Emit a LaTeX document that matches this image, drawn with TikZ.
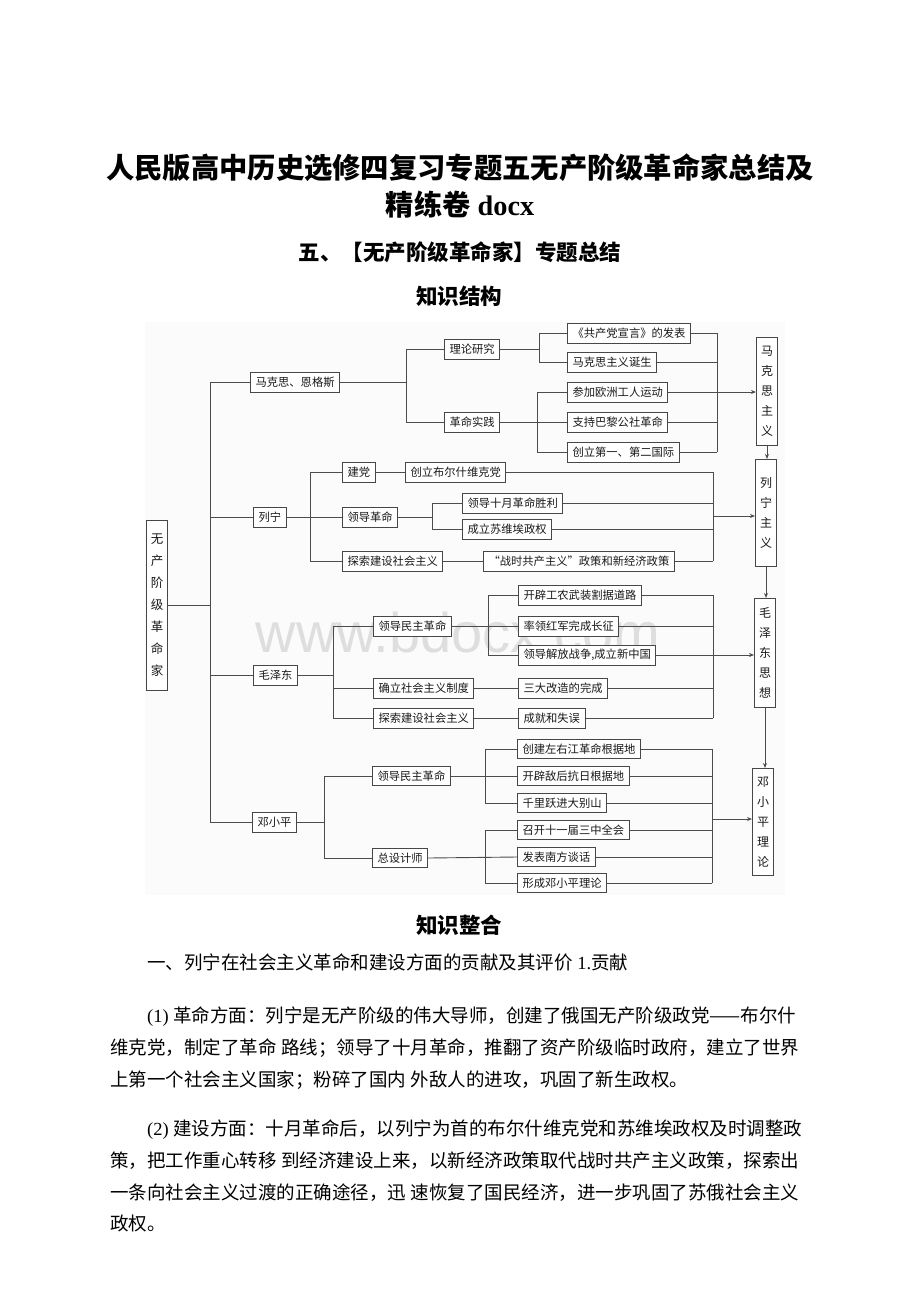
\documentclass[tikz,border=0pt]{standalone}
\usepackage{fontspec}
\setmainfont{Liberation Serif}
\newfontfamily\cjk{Noto Sans CJK SC}
\newfontfamily\wmfont{Liberation Sans}
\usetikzlibrary{arrows.meta}
\XeTeXlinebreaklocale "zh"
\XeTeXlinebreakskip=0pt plus 4pt
\newcommand\lat[1]{{\rmfamily #1}}
\newcommand\bodyfont{\cjk\fontsize{18.5}{22}\selectfont\spaceskip=4.6pt\relax}
\begin{document}
\begin{tikzpicture}[x=1pt,y=-1pt,
  ln/.style={draw=black!70, line width=0.9pt},
  bx/.style={draw=black!72, line width=1pt, fill=white, anchor=west, inner xsep=5pt, inner ysep=0pt, minimum height=20pt, font=\cjk\fontsize{11.3}{13}\selectfont, text=black!90},
  vb/.style={draw=black!72, line width=1pt, fill=white, inner sep=0pt, minimum width=21pt, align=center, font=\cjk\fontsize{12}{20}\selectfont, text=black!90},
  arr/.style={ln, -{Stealth[length=5pt,width=4pt]}},
  body/.style={anchor=base west, inner sep=0pt, font=\bodyfont},
  head/.style={inner sep=0pt, font=\cjk\bfseries\fontsize{21.5}{26}\selectfont}
]
\useasboundingbox (0,0) rectangle (920,1302);
\fill[white] (0,0) rectangle (920,1302);

% titles
\node[inner sep=0pt, font=\cjk\bfseries\fontsize{28.3}{34}\selectfont] (title1) at (460,168) {人民版高中历史选修四复习专题五无产阶级革命家总结及};
\node[inner sep=0pt, font=\bfseries\fontsize{28.3}{34}\selectfont] (title2) at (460,205) {{\cjk 精练卷} docx};
\node[head] (sub) at (460,252) {五、【无产阶级革命家】专题总结};
\node[head] (zsjg) at (459,296) {知识结构};

% diagram background
\fill[black!1.5] (145,322) rectangle (785,895);
\node[anchor=base, inner sep=0pt, font=\wmfont\fontsize{56}{56}\selectfont, text=black!13] (wm) at (458,652) {www.bdocx.com};

% right column
\node[vb, minimum height=108pt] (mkszy) at (767,391) {马\\克\\思\\主\\义};
\node[vb, minimum height=107pt] (lnzy) at (766,513) {列\\宁\\主\\义};
\node[vb, minimum height=109pt] (mzdsx) at (765,653) {毛\\泽\\东\\思\\想};
\node[vb, minimum height=107pt] (dxpll) at (763,822) {邓\\小\\平\\理\\论};
\draw[arr] (mkszy.south) -- (mkszy.south |- lnzy.north);
\draw[arr] (lnzy.south) -- (lnzy.south |- mzdsx.north);
\draw[arr] (mzdsx.south) -- (mzdsx.south |- dxpll.north);

% root and level 1
\node[vb, minimum height=170pt, font=\cjk\fontsize{12.5}{22}\selectfont] (root) at (157,605) {无\\产\\阶\\级\\革\\命\\家};
\coordinate (t1) at (210,0);
\node[bx] (marx) at (250,382) {马克思、恩格斯};
\node[bx] (lenin) at (253,517) {列宁};
\node[bx] (mao) at (253,675) {毛泽东};
\node[bx] (deng) at (252,822) {邓小平};
\draw[ln] (root.east) -- (root.east -| t1);
\draw[ln] (marx.west -| t1) -- (deng.west -| t1);
\foreach \n in {marx,lenin,mao,deng} \draw[ln] (\n.west) -- (\n.west -| t1);

% Marx
\coordinate (m1) at (406,0);
\node[bx] (llyj) at (444,349) {理论研究};
\node[bx] (gmsj) at (444,422) {革命实践};
\draw[ln] (marx.east) -- (marx.east -| m1);
\draw[ln] (llyj.west -| m1) -- (gmsj.west -| m1);
\draw[ln] (llyj.west) -- (llyj.west -| m1);
\draw[ln] (gmsj.west) -- (gmsj.west -| m1);
\coordinate (m2) at (539,0);
\coordinate (m3) at (537,0);
\node[bx] (gcdx) at (567,333) {《共产党宣言》的发表};
\node[bx] (mksd) at (567,362) {马克思主义诞生};
\node[bx] (cjoz) at (567,392) {参加欧洲工人运动};
\node[bx] (zcbl) at (567,422) {支持巴黎公社革命};
\node[bx] (cldy) at (567,452) {创立第一、第二国际};
\draw[ln] (llyj.east) -- (llyj.east -| m2);
\draw[ln] (gcdx.west -| m2) -- (mksd.west -| m2);
\draw[ln] (gcdx.west) -- (gcdx.west -| m2);
\draw[ln] (mksd.west) -- (mksd.west -| m2);
\draw[ln] (gmsj.east) -- (zcbl.west);
\draw[ln] (cjoz.west -| m3) -- (cldy.west -| m3);
\draw[ln] (cjoz.west) -- (cjoz.west -| m3);
\draw[ln] (cldy.west) -- (cldy.west -| m3);
\coordinate (mr) at (717,0);
\draw[ln] (gcdx.east -| mr) -- (cldy.east -| mr);
\foreach \n in {gcdx,mksd,cjoz,zcbl,cldy} \draw[ln] (\n.east) -- (\n.east -| mr);
\draw[arr] (cjoz.east -| mr) -- (cjoz.east -| mkszy.west);

% Lenin
\coordinate (l1) at (310,0);
\node[bx] (jd) at (342,472) {建党};
\node[bx] (ldgm) at (342,517) {领导革命};
\node[bx] (tsjs) at (342,561) {探索建设社会主义};
\draw[ln] (lenin.east) -- (ldgm.west);
\draw[ln] (jd.west -| l1) -- (tsjs.west -| l1);
\draw[ln] (jd.west) -- (jd.west -| l1);
\draw[ln] (tsjs.west) -- (tsjs.west -| l1);
\node[bx] (cjbr) at (405,472) {创立布尔什维克党};
\draw[ln] (jd.east) -- (cjbr.west);
\coordinate (l2) at (432,0);
\node[bx] (ldsy) at (462,503) {领导十月革命胜利};
\node[bx] (clsw) at (462,529) {成立苏维埃政权};
\draw[ln] (ldgm.east) -- (ldgm.east -| l2);
\draw[ln] (ldsy.west -| l2) -- (clsw.west -| l2);
\draw[ln] (ldsy.west) -- (ldsy.west -| l2);
\draw[ln] (clsw.west) -- (clsw.west -| l2);
\node[bx] (zsgc) at (483,561) {“战时共产主义”政策和新经济政策};
\draw[ln] (tsjs.east) -- (zsgc.west);
\coordinate (lr) at (713,0);
\draw[ln] (cjbr.east -| lr) -- (zsgc.east -| lr);
\foreach \n in {cjbr,ldsy,clsw,zsgc} \draw[ln] (\n.east) -- (\n.east -| lr);
\coordinate (la) at (713,516);
\draw[arr] (la) -- (la -| lnzy.west);

% Mao
\coordinate (z1) at (333,0);
\node[bx] (zld) at (373,626) {领导民主革命};
\node[bx] (zql) at (373,688) {确立社会主义制度};
\node[bx] (zts) at (373,718) {探索建设社会主义};
\draw[ln] (mao.east) -- (mao.east -| z1);
\draw[ln] (zld.west -| z1) -- (zts.west -| z1);
\foreach \n in {zld,zql,zts} \draw[ln] (\n.west) -- (\n.west -| z1);
\coordinate (z2) at (488,0);
\node[bx] (kpgn) at (518,595) {开辟工农武装割据道路};
\node[bx] (slhj) at (518,626) {率领红军完成长征};
\node[bx] (ldjf) at (518,655) {领导解放战争,成立新中国};
\draw[ln] (zld.east) -- (slhj.west);
\draw[ln] (kpgn.west -| z2) -- (ldjf.west -| z2);
\draw[ln] (kpgn.west) -- (kpgn.west -| z2);
\draw[ln] (ldjf.west) -- (ldjf.west -| z2);
\node[bx] (sdgz) at (518,688) {三大改造的完成};
\node[bx] (cjsw) at (518,718) {成就和失误};
\draw[ln] (zql.east) -- (sdgz.west);
\draw[ln] (zts.east) -- (cjsw.west);
\coordinate (zr) at (713,0);
\draw[ln] (kpgn.east -| zr) -- (cjsw.east -| zr);
\foreach \n in {kpgn,slhj,ldjf,sdgz,cjsw} \draw[ln] (\n.east) -- (\n.east -| zr);
\draw[arr] (ldjf.east -| zr) -- (ldjf.east -| mzdsx.west);

% Deng
\coordinate (d1) at (324,0);
\node[bx, minimum height=19pt] (dld) at (372,776) {领导民主革命};
\node[bx, minimum height=19pt] (dzs) at (372,858) {总设计师};
\draw[ln] (deng.east) -- (deng.east -| d1);
\draw[ln] (dld.west -| d1) -- (dzs.west -| d1);
\draw[ln] (dld.west) -- (dld.west -| d1);
\draw[ln] (dzs.west) -- (dzs.west -| d1);
\coordinate (d2) at (485,0);
\node[bx, minimum height=19pt] (cjzy) at (517,749) {创建左右江革命根据地};
\node[bx, minimum height=19pt] (kpdh) at (517,776) {开辟敌后抗日根据地};
\node[bx, minimum height=19pt] (qlyj) at (517,803) {千里跃进大别山};
\draw[ln] (dld.east) -- (kpdh.west);
\draw[ln] (cjzy.west -| d2) -- (qlyj.west -| d2);
\draw[ln] (cjzy.west) -- (cjzy.west -| d2);
\draw[ln] (qlyj.west) -- (qlyj.west -| d2);
\node[bx, minimum height=19pt] (zkse) at (517,830) {召开十一届三中全会};
\node[bx, minimum height=19pt] (fbnf) at (517,857) {发表南方谈话};
\node[bx, minimum height=19pt] (xcdx) at (517,883) {形成邓小平理论};
\draw[ln] (dzs.east) -- (fbnf.west);
\draw[ln] (zkse.west -| d2) -- (xcdx.west -| d2);
\draw[ln] (zkse.west) -- (zkse.west -| d2);
\draw[ln] (xcdx.west) -- (xcdx.west -| d2);
\coordinate (dr) at (712,0);
\draw[ln] (cjzy.east -| dr) -- (xcdx.east -| dr);
\foreach \n in {cjzy,kpdh,qlyj,zkse,fbnf,xcdx} \draw[ln] (\n.east) -- (\n.east -| dr);
\coordinate (da) at (712,819);
\draw[arr] (da) -- (da -| dxpll.west);

% text below
\node[head] (zszh) at (459,925) {知识整合};
\node[body] (p0) at (147,969) {一、列宁在社会主义革命和建设方面的贡献及其评价 \lat{1.}贡献};
\node[body] (p11) at (147,1022) {\hbox to 663pt{\lat{(1)} 革命方面：列宁是无产阶级的伟大导师，创建了俄国无产阶级政党——布尔什}};
\node[body] (p12) at (110,1054) {\hbox to 700pt{维克党，制定了革命 路线；领导了十月革命，推翻了资产阶级临时政府，建立了世界}};
\node[body] (p13) at (110,1086) {上第一个社会主义国家；粉碎了国内 外敌人的进攻，巩固了新生政权。};
\node[body] (p21) at (147,1135) {\hbox to 663pt{\lat{(2)} 建设方面：十月革命后，以列宁为首的布尔什维克党和苏维埃政权及时调整政}};
\node[body] (p22) at (110,1167) {\hbox to 700pt{策，把工作重心转移 到经济建设上来，以新经济政策取代战时共产主义政策，探索出}};
\node[body] (p23) at (110,1199) {\hbox to 700pt{一条向社会主义过渡的正确途径，迅 速恢复了国民经济，进一步巩固了苏俄社会主义}};
\node[body] (p24) at (110,1230) {政权。};
\end{tikzpicture}
\end{document}
